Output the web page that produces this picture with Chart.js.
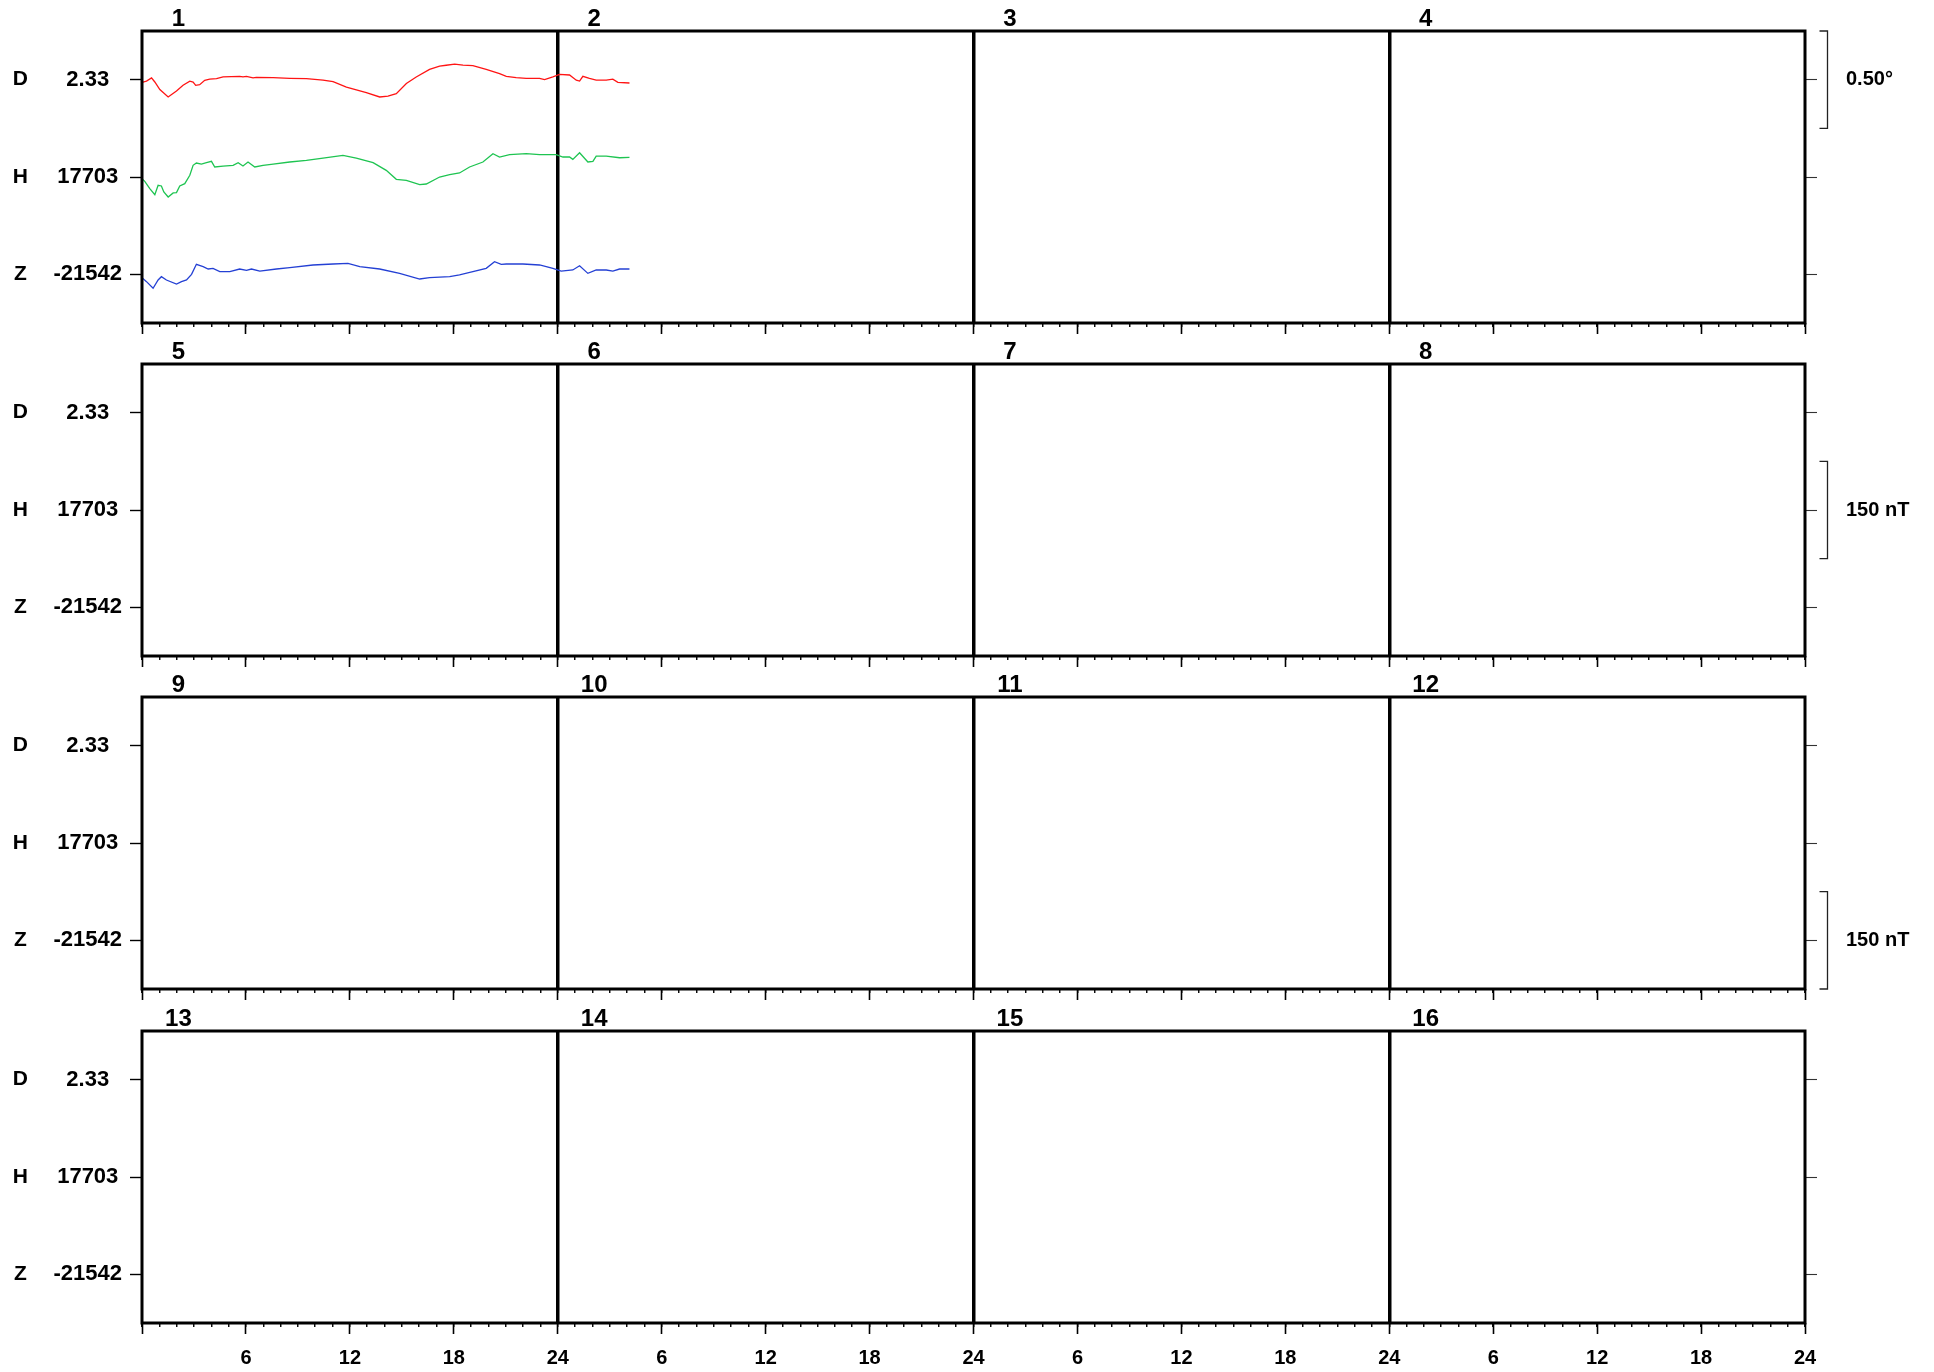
<!DOCTYPE html>
<html>
<head>
<meta charset="utf-8">
<script src="https://cdn.jsdelivr.net/npm/chart.js@4.4.1/dist/chart.umd.min.js"></script>
<style>
  body { margin: 0; background: #fff; width: 1934px; height: 1372px; position: relative; overflow: hidden; }
  canvas { position: absolute; left: 0; }
</style>
</head>
<body>
<canvas id="row0" width="1934" height="372" style="top:0px"></canvas>
<canvas id="row1" width="1934" height="372" style="top:333px"></canvas>
<canvas id="row2" width="1934" height="372" style="top:666px"></canvas>
<canvas id="row3" width="1934" height="372" style="top:1000px"></canvas>
<script>
// ---- data (hours from start of day 1) ----
const hoursD = [0, 0.26, 0.55, 0.74, 1.03, 1.51, 1.99, 2.37, 2.76, 2.95, 3.10, 3.33, 3.62, 3.91, 4.30, 4.68, 5.64, 5.83, 6.03, 6.41, 6.60, 7.57, 8.53, 9.49, 10.45, 11.03, 11.80, 12.95, 13.72, 14.2, 14.68, 15.26, 15.83, 16.6, 17.18, 17.56, 18.05, 18.53, 19.1, 19.87, 20.64, 21.03, 21.6, 22.18, 22.95, 23.24, 23.72, 24.1, 24.68, 25.07, 25.26, 25.45, 25.83, 26.22, 26.8, 27.18, 27.47, 28.14];
const valuesD = [2.316, 2.323, 2.339, 2.318, 2.279, 2.241, 2.272, 2.301, 2.322, 2.318, 2.301, 2.304, 2.327, 2.333, 2.335, 2.344, 2.347, 2.344, 2.347, 2.339, 2.342, 2.340, 2.337, 2.335, 2.328, 2.320, 2.292, 2.263, 2.241, 2.245, 2.258, 2.310, 2.344, 2.383, 2.400, 2.404, 2.410, 2.405, 2.402, 2.383, 2.361, 2.347, 2.340, 2.337, 2.337, 2.330, 2.344, 2.357, 2.354, 2.327, 2.323, 2.347, 2.337, 2.328, 2.328, 2.333, 2.316, 2.313];

const hoursH = [0, 0.16, 0.45, 0.74, 0.93, 1.12, 1.26, 1.51, 1.8, 1.99, 2.18, 2.47, 2.76, 2.95, 3.14, 3.43, 3.72, 4.01, 4.2, 4.68, 5.26, 5.55, 5.83, 6.12, 6.51, 6.99, 7.57, 8.53, 9.49, 10.45, 11.6, 12.37, 13.34, 14.1, 14.68, 15.26, 16.03, 16.41, 17.18, 17.76, 18.33, 18.91, 19.68, 20.26, 20.64, 21.22, 22.18, 22.95, 23.91, 24.3, 24.68, 24.87, 25.26, 25.74, 26.03, 26.22, 26.8, 27.57, 28.14];
const valuesH = [17700.4, 17696.3, 17685.1, 17675.8, 17690.2, 17689.2, 17679.9, 17672.2, 17678.4, 17678.9, 17689.2, 17692.7, 17705.6, 17721.0, 17724.5, 17723.0, 17725.0, 17727.1, 17718.4, 17719.9, 17721.0, 17725.0, 17720.0, 17726.0, 17718.4, 17721.0, 17723.0, 17726.1, 17728.6, 17732.2, 17736.3, 17732.2, 17725.0, 17713.3, 17699.4, 17697.9, 17691.2, 17692.2, 17703.0, 17706.6, 17709.2, 17718.4, 17726.1, 17738.9, 17733.8, 17737.4, 17738.9, 17737.4, 17737.4, 17733.8, 17733.8, 17730.2, 17740.4, 17726.1, 17727.1, 17735.3, 17735.3, 17732.7, 17733.3];

const hoursZ = [0, 0.26, 0.64, 0.93, 1.12, 1.41, 1.99, 2.28, 2.57, 2.86, 3.14, 3.53, 3.82, 4.1, 4.49, 5.07, 5.64, 6.03, 6.32, 6.8, 7.76, 8.53, 9.87, 11.03, 11.89, 12.57, 13.72, 14.87, 16.03, 16.6, 17.76, 18.33, 19.1, 19.87, 20.35, 20.74, 21.03, 21.99, 22.95, 23.72, 24.2, 24.87, 25.26, 25.74, 26.22, 26.8, 27.18, 27.57, 28.14];
const valuesZ = [-21547.1, -21553.3, -21563.5, -21550.7, -21545.6, -21550.7, -21556.9, -21553.3, -21550.7, -21542.0, -21526.6, -21530.2, -21533.8, -21532.8, -21537.9, -21537.9, -21533.8, -21535.8, -21533.8, -21536.9, -21533.8, -21531.7, -21527.6, -21526.1, -21525.1, -21530.2, -21533.8, -21540.5, -21549.2, -21547.1, -21545.6, -21543.0, -21537.9, -21532.8, -21522.5, -21526.6, -21526.1, -21526.1, -21527.6, -21532.8, -21536.9, -21535.3, -21528.7, -21540.5, -21535.3, -21535.3, -21536.9, -21533.8, -21533.8];

// baselines and scale (one band unit = 0.25 deg or 75 nT)
const components = ['D', 'H', 'Z'];
const baseLabels = ['2.33', '17703', '-21542'];
const baseValues = [2.33, 17703, -21542];
const unitSize = [0.25, 75, 75];
const bandLevels = [5, 3, 1];

const scaleBarLabels = ['0.50°', '150 nT', '150 nT', ''];
const scaleBarLevels = [5, 3, 1, null];

const dayTickOffset = 2.1;
const hourTicks = Array.from({length: 97}, (_, i) => i);
const majorTicks = [0, 6, 12, 18, 24, 30, 36, 42, 48, 54, 60, 66, 72, 78, 84, 90, 96];

const FONT = "'Liberation Sans', Arial, sans-serif";

function toBand(c, hours, values) {
    return hours.map((h, i) => ({x: h, y: bandLevels[c] + (values[i] - baseValues[c]) / unitSize[c]}));
}

function fixTicks(list) {
    return s => { s.ticks = list.map(v => ({value: v})); };
}

// fixed box size, no extra margin asked for by the labels
function fixSize(w, h) {
    return s => {
        if (w !== null) s.width = w;
        if (h !== null) s.height = h;
        s.paddingTop = 0; s.paddingBottom = 0;
        s.paddingLeft = 0; s.paddingRight = 0;
    };
}

function makeRow(k) {
    const isLast = k === 3;
    const datasets = k === 0 ? [
        {label: 'D', data: toBand(0, hoursD, valuesD), borderColor: '#ff1414'},
        {label: 'H', data: toBand(1, hoursH, valuesH), borderColor: '#1ec451'},
        {label: 'Z', data: toBand(2, hoursZ, valuesZ), borderColor: '#2440d4'}
    ] : [];

    // frame round the plot and the scale bracket on the right
    const frame = {
        id: 'frame' + k,
        afterDraw(chart) {
            const ctx = chart.ctx;
            const a = chart.chartArea;
            ctx.save();
            ctx.strokeStyle = '#000';
            ctx.lineWidth = 3;
            ctx.strokeRect(a.left, a.top, a.right - a.left, a.bottom - a.top);
            const lvl = scaleBarLevels[k];
            if (lvl !== null) {
                const ys = chart.scales.yRight;
                const y1 = ys.getPixelForValue(lvl + 1);
                const y2 = ys.getPixelForValue(lvl - 1);
                const x = a.right + 22.5;
                ctx.lineWidth = 1.3;
                ctx.strokeStyle = '#222';
                ctx.beginPath();
                ctx.moveTo(x - 8, y1);
                ctx.lineTo(x, y1);
                ctx.lineTo(x, y2);
                ctx.lineTo(x - 8, y2);
                ctx.stroke();
            }
            ctx.restore();
        }
    };

    return new Chart(document.getElementById('row' + k), {
        type: 'line',
        data: {datasets},
        options: {
            responsive: false,
            animation: false,
            layout: {padding: 0},
            elements: {
                point: {radius: 0},
                line: {borderWidth: 1.3, tension: 0}
            },
            plugins: {
                legend: {display: false},
                tooltip: {enabled: false}
            },
            scales: {
                x: {
                    type: 'linear', min: 0, max: 96, position: 'bottom',
                    afterBuildTicks: fixTicks(hourTicks),
                    afterFit: fixSize(null, 0),
                    ticks: {display: false},
                    grid: {
                        color: c => (c.tick && c.tick.value % 24 === 0 && c.tick.value > 0 && c.tick.value < 96) ? '#000' : 'rgba(0,0,0,0)',
                        lineWidth: 3.5,
                        tickLength: 4,
                        tickColor: '#000',
                        tickWidth: 1.4
                    },
                    border: {display: false}
                },
                xMajor: {
                    type: 'linear', min: 0, max: 96, position: 'bottom',
                    afterBuildTicks: fixTicks(majorTicks),
                    afterFit: fixSize(null, 49),
                    ticks: {
                        display: isLast,
                        autoSkip: false,
                        maxRotation: 0,
                        padding: 12,
                        color: '#000',
                        font: {family: FONT, size: 20, weight: 'bold'},
                        callback: v => v === 0 ? '' : (v % 24 === 0 ? '24' : String(v % 24))
                    },
                    grid: {drawOnChartArea: false, tickLength: 11, tickColor: '#000', tickWidth: 1.6},
                    border: {display: false}
                },
                xDay: {
                    type: 'linear', min: 0, max: 96, position: 'top',
                    afterBuildTicks: fixTicks([0, 1, 2, 3].map(d => d * 24 + dayTickOffset)),
                    afterFit: fixSize(null, 31),
                    ticks: {
                        autoSkip: false,
                        maxRotation: 0,
                        padding: 0,
                        color: '#000',
                        font: {family: FONT, size: 24, weight: 'bold', lineHeight: 1},
                        callback: (v, i) => String(k * 4 + i + 1)
                    },
                    grid: {display: false, drawTicks: false},
                    border: {display: false}
                },
                y: {
                    min: 0, max: 6, position: 'left',
                    afterBuildTicks: fixTicks(bandLevels),
                    afterFit: fixSize(102, null),
                    ticks: {
                        crossAlign: 'center',
                        padding: 8,
                        color: '#000',
                        font: {family: FONT, size: 22, weight: 'bold'},
                        callback: v => baseLabels[bandLevels.indexOf(v)]
                    },
                    grid: {drawOnChartArea: false, tickLength: 12, tickColor: '#000', tickWidth: 1.4},
                    border: {display: false}
                },
                yName: {
                    min: 0, max: 6, position: 'left',
                    afterBuildTicks: fixTicks(bandLevels),
                    afterFit: fixSize(40, null),
                    ticks: {
                        crossAlign: 'center',
                        padding: 12,
                        color: '#000',
                        font: {family: FONT, size: 21, weight: 'bold'},
                        callback: v => components[bandLevels.indexOf(v)]
                    },
                    grid: {display: false, drawTicks: false},
                    border: {display: false}
                },
                yRight: {
                    min: 0, max: 6, position: 'right',
                    afterBuildTicks: fixTicks(bandLevels),
                    afterFit: fixSize(129, null),
                    ticks: {
                        padding: 29,
                        color: '#000',
                        font: {family: FONT, size: 20, weight: 'bold'},
                        callback: v => v === scaleBarLevels[k] ? scaleBarLabels[k] : ''
                    },
                    grid: {drawOnChartArea: false, tickLength: 12, tickColor: '#333', tickWidth: 1.1},
                    border: {display: false}
                }
            }
        },
        plugins: [frame]
    });
}

[0, 1, 2, 3].forEach(makeRow);
</script>
</body>
</html>
